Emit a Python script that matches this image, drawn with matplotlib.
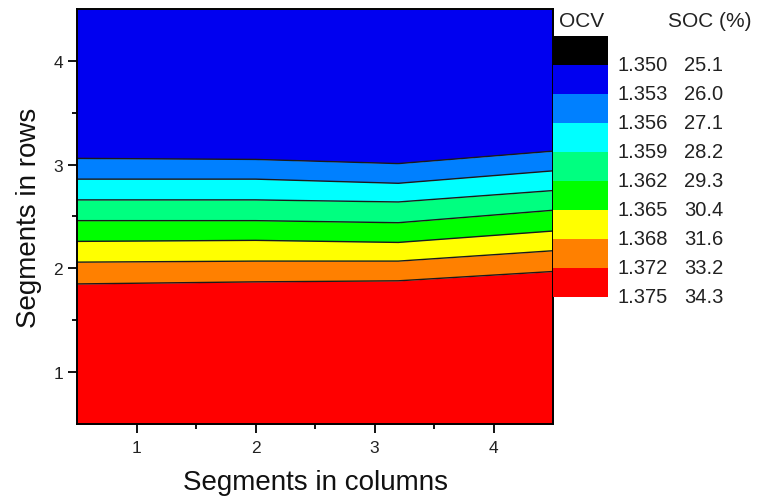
import matplotlib
matplotlib.use('Agg')
from matplotlib import pyplot as plt
import numpy as np

plt.rcParams['font.family'] = ['Liberation Sans', 'DejaVu Sans']

# column positions where the iso-OCV lines are sampled
x_pos = [0.5, 2.0, 3.2, 4.5]

# iso-OCV boundary lines (y position in "segments in rows") per level
ocv_lines = [1.353, 1.356, 1.359, 1.362, 1.365, 1.368, 1.372]
iso_y = [
    [3.06, 3.05, 3.01, 3.13],
    [2.86, 2.86, 2.82, 2.94],
    [2.66, 2.66, 2.64, 2.75],
    [2.46, 2.46, 2.44, 2.56],
    [2.26, 2.27, 2.25, 2.36],
    [2.06, 2.07, 2.07, 2.17],
    [1.85, 1.87, 1.88, 1.97],
]

# colour scale (top to bottom)
ocv_ticks = ['1.350', '1.353', '1.356', '1.359', '1.362', '1.365', '1.368', '1.372', '1.375']
soc_ticks = ['25.1', '26.0', '27.1', '28.2', '29.3', '30.4', '31.6', '33.2', '34.3']
level_colors = ['#000000', '#0000F0', '#0080FF', '#00FFFF', '#00FF80',
                '#00FF00', '#FFFF00', '#FF8000', '#FF0000']

fig = plt.figure(figsize=(7.58, 5.02), dpi=100)
ax = fig.add_axes([0.1016, 0.1534, 0.628, 0.8267])

xlo, xhi, ylo, yhi = 0.5, 4.5, 0.5, 4.5
# bands: top blue region, then between lines, then red bottom
bounds = [[yhi] * len(x_pos)] + iso_y + [[ylo] * len(x_pos)]
for i in range(len(bounds) - 1):
    ax.fill_between(x_pos, bounds[i + 1], bounds[i], color=level_colors[i + 1],
                    linewidth=0)
for yy in iso_y:
    ax.plot(x_pos, yy, color='#1a1a1a', lw=1.0)

ax.set_xlim(xlo, xhi)
ax.set_ylim(ylo, yhi)
ax.set_xticks([1, 2, 3, 4])
ax.set_yticks([1, 2, 3, 4])
ax.set_xticks([1.5, 2.5, 3.5], minor=True)
ax.set_yticks([1.5, 2.5, 3.5], minor=True)
ax.tick_params(which='major', direction='out', length=6.5, width=1.3,
               labelsize=12.5, labelcolor='#222222')
ax.tick_params(which='minor', direction='out', length=3.5, width=1.3)
ax.tick_params(axis='x', which='major', pad=5)
ax.tick_params(axis='y', which='major', pad=3.5)
for s in ax.spines.values():
    s.set_linewidth(1.4)
ax.set_xlabel('Segments in columns', fontsize=20, color='#111111', labelpad=10)
ax.set_ylabel('Segments in rows', fontsize=20, color='#111111', labelpad=8)

# colour scale
cax = fig.add_axes([0.7296, 0.4064, 0.0726, 0.5199])
n = len(level_colors)
cax.barh(np.arange(n), [1] * n, height=1, left=0, color=level_colors, align='edge')
cax.set_xlim(0, 1)
cax.set_ylim(n, 0)
cax.axis('off')
for i in range(n):
    yf = 0.9263 - (i + 1) * 0.5199 / n
    fig.text(0.814, yf, ocv_ticks[i], fontsize=14.5, color='#222222', va='center')
    fig.text(0.902, yf, soc_ticks[i], fontsize=14.5, color='#222222', va='center')
fig.text(0.767, 0.958, 'OCV', fontsize=15, color='#222222', ha='center', va='center')
fig.text(0.937, 0.958, 'SOC (%)', fontsize=15, color='#222222', ha='center', va='center')

plt.savefig('out.png', dpi=100)
plt.close()
